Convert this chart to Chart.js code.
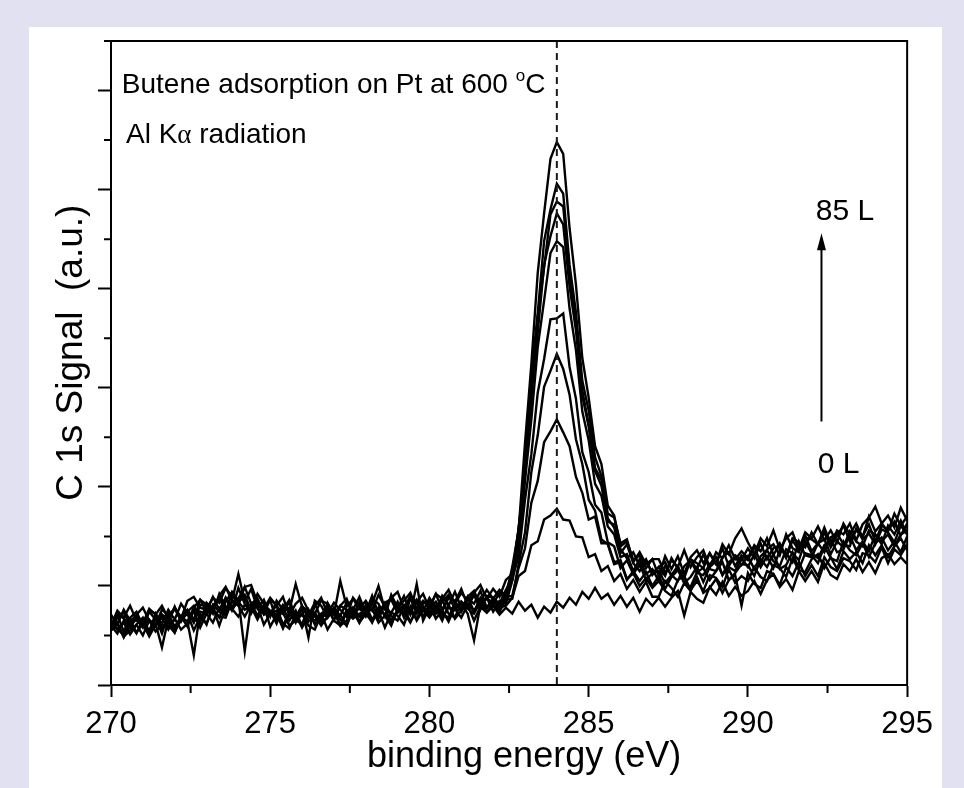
<!DOCTYPE html>
<html>
<head>
<meta charset="utf-8">
<title>C 1s spectra</title>
<script src="https://cdn.jsdelivr.net/npm/chart.js@4.4.0/dist/chart.umd.min.js"></script>
<style>
  html, body { margin: 0; padding: 0; background: #e1e1f1; }
  body { width: 964px; height: 788px; overflow: hidden; position: relative; }
  #panel { position: absolute; left: 29px; top: 27px; width: 913px; height: 761px; background: #fff; }
  canvas { display: block; }
</style>
</head>
<body>
<div id="panel"><canvas id="xps" width="913" height="761"></canvas></div>
<script>
const FONT = "'Liberation Sans', Arial, Helvetica, sans-serif";

// sampling of the spectra (eV)
const eStart = 270.0;
const eStep = 0.2;

const xMinorTicks = [272.5, 277.5, 282.5, 287.5, 292.5];
const yMinorTicks = [50, 150, 250, 350, 450, 550, 650];
const peakPosition = 284.0;

// C 1s signal, highest exposure (85 L) first, 0 L last
const spec1 = [71,61,76,65,70,60,75,72,62,76, 66,82,73,66,86,81,74,90,99,85, 112,84,97,77,86,69,85,76,86,69, 80,67,79,88,72,83,76,69,88,80, 73,87,82,69,91,78,85,93,77,85, 79,92,76,89,84,97,80,91,85,96,
  87,96,90,119,156,244,324,416,476,531,548,536,461,404,330,290,241,223,181,171,140,145,126,131,118,127,
  110,130,117,130,112,129,136,123,133,122,142,132,148,158, 144,132,148,140,156,137,148,154,137,154,148,160,146,156,144,163,152,163,149,170,155,163,155,173,161,170];
const spec2 = [58,71,54,68,74,60,66,59,71,66, 77,65,74,63,81,80,72,92,79,76, 98,82,75,87,74,86,64,78,75,102, 79,70,83,66,77,65,80,76,70,84, 73,83,67,81,86,73,77,88,72,82, 85,72,84,91,76,84,79,91,76,90,
  88,82,96,106,158,217,313,375,448,480,506,496,424,376,307,277,230,211,173,169,143,147,124,134,122,127,
  127,113,126,119,136,119,129,136,119,134,128,141,127,135, 128,141,135,148,131,143,130,148,144,139,154,142,154,139,151,161,145,156,150,162,145,161,156,165,151,163];
const spec3 = [65,56,63,51,61,68,54,72,57,64, 53,69,76,66,63,83,77,68,84,94, 85,89,72,84,71,73,80,60,73,65, 62,76,61,70,81,65,60,76,74,63, 81,66,76,79,62,75,81,71,102,65, 78,84,72,68,83,75,89,74,88,78,
  88,79,94,113,142,220,288,372,421,475,488,483,415,367,297,263,219,207,168,159,133,142,123,115,126,113,
  119,124,110,119,108,126,117,132,117,115,129,134,120,131, 126,140,123,137,142,131,152,138,134,149,147,142,159,143,156,152,163,146,162,169,180,163,171,159,179,166];
const spec4 = [60,75,68,80,65,62,77,71,80,67, 78,67,85,89,78,76,88,83,98,89, 87,99,101,83,77,88,80,89,70,82, 88,75,72,85,82,71,105,79,87,77, 85,75,91,79,88,94,77,90,84,92, 77,92,87,96,82,93,85,93,101,87,
  97,89,106,112,158,212,297,356,424,453,476,465,402,358,292,261,216,201,165,162,137,128,134,120,127,111,
  119,110,128,117,111,127,123,118,133,122,138,120,131,126, 138,128,143,127,138,141,128,146,136,151,135,143,134,149,153,142,140,158,147,153,142,157,154,144,161,152];
const spec5 = [60,57,50,66,53,62,49,61,68,56, 67,56,62,75,58,72,76,69,68,85, 80,69,81,70,80,59,71,73,60,65, 72,60,56,71,69,76,60,65,77,63, 72,77,63,70,60,77,73,63,77,69, 81,67,75,64,79,82,72,45,81,88,
  74,85,82,105,133,206,268,341,388,436,448,442,380,338,276,247,203,191,160,152,129,132,115,127,112,117,
  105,120,111,105,120,126,113,111,122,129,111,124,129,121, 130,117,130,136,125,120,137,133,126,145,133,128,141,147,134,137,151,136,145,135,152,145,152,140,152,156];
const spec6 = [56,68,73,61,66,58,74,66,71,63, 79,64,74,80,66,75,89,76,88,78, 83,91,75,92,82,72,68,81,77,63, 79,75,69,64,83,72,80,87,70,78, 69,82,100,76,73,84,68,87,82,75, 88,78,74,88,85,74,89,95,80,88,
  82,93,87,110,130,187,233,295,329,369,370,375,321,289,235,215,182,174,144,140,118,126,112,122,106,113,
  115,103,111,120,103,109,119,104,119,125,111,119,115,128, 119,132,119,130,118,136,133,124,145,131,129,143,147,132,145,139,155,145,140,156,152,142,161,152,166,152];
const spec7 = [55,63,49,55,61,50,65,54,61,60, 53,68,64,30,74,72,63,78,70,85, 84,76,79,66,79,71,72,57,72,65, 71,64,70,60,69,74,60,73,67,72, 74,63,78,71,66,75,77,64,75,79, 73,80,68,78,77,68,81,75,84,74,
  81,74,86,87,122,154,215,252,301,317,334,319,293,248,223,187,176,147,142,122,124,106,115,105,114,100,
  110,97,109,116,103,99,114,118,106,115,124,106,113,122, 121,110,127,119,132,117,121,134,117,133,131,123,140,128,125,145,136,131,143,129,143,149,136,145,134,150];
const spec8 = [60,52,65,57,69,61,54,68,52,72, 59,69,59,76,72,61,81,74,88,75, 87,34,82,70,81,75,62,78,65,75, 59,74,73,63,68,78,66,60,78,69, 77,66,71,83,70,65,80,74,67,79, 70,80,86,72,68,84,77,72,84,78,
  85,77,89,90,118,138,184,206,245,256,268,255,241,210,194,167,170,143,143,124,126,107,113,100,108,98,
  105,95,90,106,110,96,105,95,111,108,99,117,103,110, 105,119,109,105,121,118,109,128,116,114,127,132,118,129,117,135,127,134,123,141,131,141,129,140,148,136];
const spec9 = [55,72,67,61,71,78,65,61,76,70, 77,69,64,78,86,74,80,88,74,93, 81,99,82,87,72,87,80,72,84,66, 77,48,85,80,68,78,70,83,76,89, 73,90,72,83,87,78,90,72,86,75, 85,74,90,80,94,78,87,82,95,78,
  84,78,80,88,110,115,141,145,167,171,178,167,166,150,149,129,132,115,120,105,112,97,106,94,104,89,
  89,105,98,89,103,95,109,93,98,107,93,106,111,80, 113,102,98,115,112,101,119,110,124,110,121,110,129,119,115,128,125,116,133,131,124,139,123,137,131,142];
const spec10 = [55,62,48,61,52,66,51,62,38,67, 55,66,72,55,69,62,78,60,79,77, 69,81,74,80,61,72,75,62,57,71, 58,69,65,72,56,67,71,60,76,64, 72,64,75,58,73,70,61,79,65,76, 68,77,65,81,67,75,81,65,79,73,
  80,71,78,72,84,75,81,68,79,73,84,78,88,81,94,87,98,87,92,81,90,79,88,74,87,80,
  88,79,88,95,70,94,87,83,99,91,104,90,99,90, 95,105,92,106,112,99,107,96,115,105,115,104,123,111,107,122,115,127,114,124,113,128,132,122,129,122];

const spectra = [spec1, spec2, spec3, spec4, spec5, spec6, spec7, spec8, spec9, spec10];
const energies = spec1.map((_, i) => +(eStart + i * eStep).toFixed(1));

// text and arrow placed in data coordinates
const notes = {
  title: { x: 270.34, y: 598 },
  source: { x: 270.47, y: 547 },
  top: { x: 292.13, y: 469 },
  bottom: { x: 292.19, y: 214 },
  arrow: { x: 292.31, from: 266, to: 456 }
};

const decorations = {
  id: "decorations",
  afterDraw(chart) {
    const { ctx, chartArea: a, scales: { x, y } } = chart;
    ctx.save();

    // dashed line at the C 1s peak
    const px = x.getPixelForValue(peakPosition);
    ctx.strokeStyle = "#1a1a1a";
    ctx.lineWidth = 2;
    ctx.setLineDash([7, 5]);
    ctx.beginPath();
    ctx.moveTo(px, a.top);
    ctx.lineTo(px, a.bottom);
    ctx.stroke();
    ctx.setLineDash([]);

    // top and right of the frame
    ctx.strokeStyle = "#000";
    ctx.beginPath();
    ctx.moveTo(a.left, a.top);
    ctx.lineTo(a.right, a.top);
    ctx.lineTo(a.right, a.bottom);
    ctx.stroke();

    // minor ticks
    ctx.beginPath();
    xMinorTicks.forEach((v) => {
      const p = x.getPixelForValue(v);
      ctx.moveTo(p, a.bottom);
      ctx.lineTo(p, a.bottom + 8);
    });
    yMinorTicks.forEach((v) => {
      const p = y.getPixelForValue(v);
      ctx.moveTo(a.left - 7, p);
      ctx.lineTo(a.left, p);
    });
    ctx.stroke();

    // labels
    ctx.fillStyle = "#000";
    ctx.textAlign = "left";
    ctx.textBaseline = "alphabetic";

    let tx = x.getPixelForValue(notes.title.x);
    let ty = y.getPixelForValue(notes.title.y);
    const head = "Butene adsorption on Pt at 600 ";
    ctx.font = `28px ${FONT}`;
    ctx.fillText(head, tx, ty);
    tx += ctx.measureText(head).width;
    ctx.font = `17px ${FONT}`;
    ctx.fillText("o", tx, ty - 12);
    tx += ctx.measureText("o").width;
    ctx.font = `28px ${FONT}`;
    ctx.fillText("C", tx, ty);

    tx = x.getPixelForValue(notes.source.x);
    ty = y.getPixelForValue(notes.source.y);
    ctx.font = `28px ${FONT}`;
    ctx.fillText("Al K", tx, ty);
    tx += ctx.measureText("Al K").width;
    ctx.font = `27px 'Liberation Serif', 'DejaVu Serif', serif`;
    ctx.fillText("\u03b1", tx, ty);
    tx += ctx.measureText("\u03b1").width;
    ctx.font = `28px ${FONT}`;
    ctx.fillText(" radiation", tx, ty);

    ctx.font = `30px ${FONT}`;
    ctx.fillText("85 L", x.getPixelForValue(notes.top.x), y.getPixelForValue(notes.top.y));
    ctx.fillText("0 L", x.getPixelForValue(notes.bottom.x), y.getPixelForValue(notes.bottom.y));

    // exposure arrow
    const ax = x.getPixelForValue(notes.arrow.x);
    const y0 = y.getPixelForValue(notes.arrow.from);
    const y1 = y.getPixelForValue(notes.arrow.to);
    ctx.lineWidth = 2;
    ctx.beginPath();
    ctx.moveTo(ax, y0);
    ctx.lineTo(ax, y1 + 14);
    ctx.stroke();
    ctx.beginPath();
    ctx.moveTo(ax, y1);
    ctx.lineTo(ax - 4.5, y1 + 17);
    ctx.lineTo(ax + 4.5, y1 + 17);
    ctx.closePath();
    ctx.fill();

    ctx.restore();
  }
};

new Chart(document.getElementById("xps"), {
  type: "line",
  data: {
    datasets: spectra.map((s, k) => ({
      label: "spectrum " + (k + 1),
      data: s.map((v, i) => ({ x: energies[i], y: v })),
      borderColor: "#000",
      borderWidth: 2.4,
      pointRadius: 0,
      tension: 0,
      fill: false
    }))
  },
  options: {
    responsive: false,
    animation: false,
    devicePixelRatio: 1,
    layout: { padding: { top: 14, right: 30, left: 0, bottom: 0 } },
    plugins: { legend: { display: false }, tooltip: { enabled: false } },
    scales: {
      x: {
        type: "linear",
        min: 270,
        max: 295,
        ticks: { stepSize: 5, color: "#000", font: { size: 31, family: FONT }, padding: 9, maxRotation: 0 },
        grid: { drawOnChartArea: false, tickLength: 12, tickWidth: 2, tickColor: "#000" },
        border: { color: "#000", width: 2 },
        title: {
          display: true,
          text: "   binding energy (eV)",
          color: "#000",
          font: { size: 36, family: FONT },
          padding: { top: 0, bottom: 9 }
        },
        afterFit(scale) { scale.height = 103; }
      },
      y: {
        min: 0,
        max: 650,
        ticks: { stepSize: 100, display: false, includeBounds: false },
        grid: { drawOnChartArea: false, tickLength: 13, tickWidth: 2, tickColor: "#000" },
        border: { color: "#000", width: 2 },
        title: {
          display: true,
          text: "  C 1s Signal  (a.u.)",
          color: "#000",
          font: { size: 37, family: FONT },
          padding: { top: 21, bottom: 0 }
        },
        afterFit(scale) { scale.width = 82; }
      }
    }
  },
  plugins: [decorations]
});
</script>
</body>
</html>
